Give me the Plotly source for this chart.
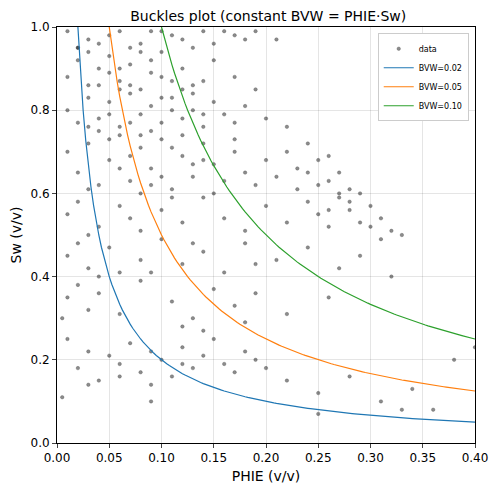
import plotly.graph_objects as go

phie = [0.01,0.03,0.05,0.06,0.08,0.09,0.11,0.12,0.14,0.15,0.17,0.19,0.21,0.13,0.07,0.04,0.16,0.18,0.10,0.02,
0.01,0.02,0.03,0.04,0.05,0.06,0.07,0.08,0.09,0.10,0.11,0.12,0.13,0.15,0.17,0.19,0.03,0.05,0.07,0.09,0.02,0.06,0.08,0.10,0.14,0.04,
0.01,0.02,0.03,0.04,0.05,0.06,0.07,0.08,0.09,0.10,0.11,0.12,0.13,0.14,0.15,0.16,0.17,0.18,0.20,0.22,0.04,0.06,0.08,0.10,0.12,0.14,0.05,0.07,0.09,0.11,0.03,0.13,
0.01,0.02,0.03,0.04,0.05,0.06,0.07,0.08,0.09,0.10,0.11,0.12,0.13,0.14,0.15,0.16,0.17,0.18,0.19,0.20,0.21,0.22,0.23,0.24,0.25,0.26,0.27,0.28,0.03,0.05,0.07,0.09,0.11,0.13,0.15,0.17,0.24,0.26,0.25,0.23,0.06,0.10,0.14,0.08,0.12,
0.01,0.02,0.04,0.06,0.08,0.10,0.12,0.14,0.16,0.18,0.20,0.22,0.24,0.25,0.26,0.27,0.28,0.29,0.30,0.31,0.32,0.33,0.27,0.29,0.03,0.07,0.11,0.26,0.28,0.30,
0.01,0.02,0.03,0.05,0.06,0.08,0.10,0.12,0.14,0.16,0.18,0.21,0.24,0.27,0.29,0.31,0.04,0.09,0.13,0.19,
0.01,0.02,0.03,0.04,0.06,0.08,0.11,0.13,0.15,0.17,0.19,0.22,0.26,0.32,0.005,0.12,0.14,0.18,
0.01,0.02,0.03,0.04,0.05,0.06,0.07,0.08,0.09,0.10,0.11,0.12,0.13,0.14,0.15,0.16,0.17,0.18,0.19,0.20,0.22,0.25,0.28,0.31,0.34,0.38,0.40,0.03,0.06,0.09,0.12,
0.005,0.09,0.25,0.33,0.36]
sw = [0.99,0.97,0.98,0.99,0.96,0.99,0.98,0.97,0.99,0.96,0.98,0.99,0.97,0.95,0.95,0.96,0.99,0.97,0.99,0.95,
0.88,0.92,0.86,0.90,0.93,0.87,0.91,0.85,0.89,0.94,0.87,0.90,0.86,0.92,0.88,0.85,0.94,0.89,0.86,0.92,0.95,0.90,0.94,0.88,0.87,0.86,
0.80,0.77,0.83,0.78,0.82,0.76,0.84,0.79,0.81,0.77,0.83,0.78,0.80,0.76,0.82,0.79,0.77,0.81,0.78,0.76,0.75,0.85,0.74,0.83,0.85,0.79,0.79,0.77,0.75,0.80,0.76,0.84,
0.70,0.65,0.72,0.62,0.68,0.74,0.63,0.71,0.66,0.73,0.61,0.69,0.64,0.72,0.67,0.63,0.70,0.65,0.62,0.68,0.64,0.70,0.66,0.72,0.68,0.63,0.65,0.61,0.61,0.73,0.69,0.62,0.71,0.67,0.60,0.73,0.65,0.69,0.62,0.61,0.66,0.64,0.68,0.60,0.74,
0.55,0.58,0.52,0.57,0.51,0.56,0.53,0.59,0.54,0.51,0.57,0.53,0.58,0.55,0.52,0.59,0.56,0.53,0.57,0.54,0.51,0.50,0.60,0.60,0.50,0.54,0.59,0.56,0.58,0.52,
0.45,0.48,0.42,0.47,0.41,0.44,0.49,0.43,0.46,0.41,0.48,0.44,0.47,0.42,0.45,0.49,0.40,0.41,0.48,0.43,
0.35,0.38,0.32,0.36,0.31,0.39,0.34,0.30,0.37,0.33,0.36,0.31,0.35,0.40,0.30,0.28,0.27,0.29,
0.25,0.18,0.22,0.15,0.21,0.19,0.24,0.17,0.22,0.20,0.16,0.23,0.18,0.21,0.25,0.19,0.17,0.22,0.20,0.18,0.15,0.12,0.16,0.10,0.13,0.20,0.23,0.14,0.16,0.14,0.19,
0.11,0.10,0.07,0.08,0.08]

bvw_values = [0.02, 0.05, 0.10]
bvw_colors = ["#1f77b4", "#ff7f0e", "#2ca02c"]
curve_phie = [0.005 + i * 0.0025 for i in range(159)]

fig = go.Figure()
fig.add_trace(go.Scatter(x=phie, y=sw, mode="markers", name="data",
    marker=dict(size=3.5, color="rgba(0,0,0,0.45)", line=dict(width=0.5, color="rgba(60,60,60,0.6)"))))
for b, c in zip(bvw_values, bvw_colors):
    xs = [b] + [p for p in curve_phie if p > b]
    fig.add_trace(go.Scatter(x=xs, y=[b / p for p in xs], mode="lines",
        name=f"BVW={b:.2f}", line=dict(color=c, width=1.2)))

ax = dict(showline=True, linecolor="black", mirror=True, ticks="outside", ticklen=4, automargin=False,
          showgrid=True, gridcolor="rgba(0,0,0,0.1)", zeroline=False, tickfont=dict(size=12))
fig.update_layout(
    width=482, height=476, template="none", plot_bgcolor="white", paper_bgcolor="white",
    font=dict(family="DejaVu Sans", color="black", size=12),
    title=dict(text="Buckles plot (constant BVW = PHIE·Sw)", x=0.54, xanchor="center",
               yref="paper", y=1, yanchor="bottom", pad=dict(b=6), font=dict(size=14)),
    margin=dict(l=49, r=15, t=19, b=41, autoexpand=False),
    xaxis=dict(range=[0, 0.4], dtick=0.05, tickformat=".2f", title=dict(text="PHIE (v/v)", standoff=6), **ax),
    yaxis=dict(range=[0, 1.0], dtick=0.2, tickformat=".1f", title=dict(text="Sw (v/v)", standoff=8), **ax),
    legend=dict(x=0.985, y=0.985, xanchor="right", yanchor="top", bgcolor="white",
                bordercolor="#cccccc", borderwidth=1, font=dict(size=8), tracegroupgap=0, itemwidth=30),
    showlegend=True,
)
fig.write_html("out.html")
